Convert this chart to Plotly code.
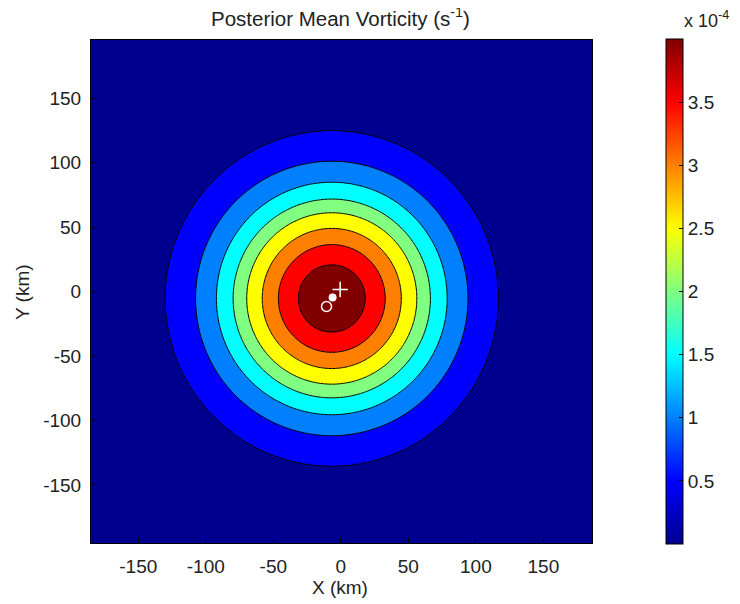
import numpy as np
import plotly.graph_objects as go

# ---- data (vorticity in units of 1e-4 s^-1) ----
contour_levels = [0.44, 0.88, 1.32, 1.76, 2.20, 2.64, 3.08, 3.52]
ring_radius_km = [123.0, 100.8, 85.4, 73.0, 63.0, 51.5, 39.6, 24.8]  # radius (along x) of each level
peak_value = 3.97
outer_value = 0.02
outer_radius_km = 260.0
vortex_center_km = [-6.7, -5.4]
ring_y_stretch = 1.055

colorbar_min = 0.0
colorbar_max = 4.0
colorbar_ticks = [0.5, 1.0, 1.5, 2.0, 2.5, 3.0, 3.5]
colorbar_ticktext = ["0.5", "1", "1.5", "2", "2.5", "3", "3.5"]

x_ticks = [-150, -100, -50, 0, 50, 100, 150]
x_ticktext = ["-150", "-100", "-50", "0", "50", "100", "150"]
y_ticks = [-150, -100, -50, 0, 50, 100, 150]
y_ticktext = ["-150", "-100", "-50", "0", "50", "100", "150"]

plus_marker_km = [-0.5, 1.5]
dot_marker_km = [-6.1, -4.7]
circle_marker_km = [-10.6, -11.6]

# ---- field on a grid built from the radial profile ----
x = np.arange(-186, 187, 1.0)
y = np.arange(-196, 197, 1.0)
X, Y = np.meshgrid(x, y)
rho = np.sqrt((X - vortex_center_km[0]) ** 2 + ((Y - vortex_center_km[1]) / ring_y_stretch) ** 2)
prof_r = [0.0] + ring_radius_km[::-1] + [outer_radius_km]
prof_v = [peak_value] + contour_levels[::-1] + [outer_value]
Z = np.interp(rho, prof_r, prof_v)

jet = [[0.0, "rgb(0,0,143)"], [0.125, "rgb(0,0,255)"], [0.375, "rgb(0,255,255)"],
       [0.625, "rgb(255,255,0)"], [0.875, "rgb(255,0,0)"], [1.0, "rgb(128,0,0)"]]

# layout geometry (pixels); the page adds an 8 px body margin
OFF = 8
W, H = 740, 604
ML, MT = 91 - OFF, 40 - OFF
PW, PH = 501, 503
MR, MB = W - ML - PW, H - MT - PH


def px_x(px):  # reference pixel x -> paper x
    return (px - OFF - ML) / PW


def px_y(py):  # reference pixel y -> paper y
    return (MT + PH - (py - OFF)) / PH


step = contour_levels[1] - contour_levels[0]
fig = go.Figure()
fig.add_trace(go.Contour(
    x=x, y=y, z=Z, colorscale=jet, showscale=False,
    contours=dict(start=contour_levels[0], end=contour_levels[-1], size=step, coloring="fill"),
    line=dict(color="black", width=1), hoverinfo="skip"))

# white markers
fig.add_trace(go.Scatter(x=[plus_marker_km[0]], y=[plus_marker_km[1]], mode="markers",
                         marker=dict(symbol="cross-thin-open", size=11, color="white",
                                     line=dict(color="white", width=1.5)),
                         showlegend=False))
fig.add_trace(go.Scatter(x=[dot_marker_km[0]], y=[dot_marker_km[1]], mode="markers",
                         marker=dict(symbol="circle", size=8, color="white"), showlegend=False))
fig.add_trace(go.Scatter(x=[circle_marker_km[0]], y=[circle_marker_km[1]], mode="markers",
                         marker=dict(symbol="circle-open", size=10, color="white",
                                     line=dict(color="white", width=1.5)),
                         showlegend=False))

# continuous colorbar
fig.add_trace(go.Scatter(
    x=[vortex_center_km[0]], y=[vortex_center_km[1]], mode="markers", showlegend=False,
    hoverinfo="skip",
    marker=dict(size=1, opacity=0, color=[colorbar_min], colorscale=jet,
                cmin=colorbar_min, cmax=colorbar_max, showscale=True,
                colorbar=dict(x=px_x(666), xanchor="left", y=0.5, yanchor="middle",
                              thickness=17, lenmode="pixels", len=PH + 2,
                              outlinewidth=1, outlinecolor="black",
                              tickvals=colorbar_ticks, ticktext=colorbar_ticktext,
                              ticks="inside", ticklen=4, tickcolor="black",
                              tickfont=dict(size=19, color="#222"), xpad=0, ypad=0))))

font = "Liberation Sans, Arial, sans-serif"
axis_common = dict(ticks="inside", ticklen=5, tickcolor="black", showline=True, mirror=True,
                   linecolor="black", linewidth=1, showgrid=False, zeroline=False,
                   automargin=False, tickfont=dict(size=19, color="#222"))
fig.update_layout(
    width=W, height=H,
    margin=dict(l=ML, r=MR, t=MT, b=MB),
    paper_bgcolor="white", plot_bgcolor="white",
    font=dict(family=font, size=19, color="#222"),
    showlegend=False,
    xaxis=dict(range=[-185, 186], tickvals=x_ticks, ticktext=x_ticktext,
               ticklabelstandoff=6, **axis_common),
    yaxis=dict(range=[-195, 195], tickvals=y_ticks, ticktext=y_ticktext,
               ticklabelstandoff=5, **axis_common),
    annotations=[
        dict(text="Posterior Mean Vorticity (s<sup>-1</sup>)", xref="paper", yref="paper",
             x=px_x(340), y=px_y(17), xanchor="center", yanchor="middle",
             showarrow=False, font=dict(size=20.5, color="#222")),
        dict(text="x 10<sup>-4</sup>", xref="paper", yref="paper",
             x=px_x(682), y=px_y(20), xanchor="left", yanchor="middle",
             showarrow=False, font=dict(size=18, color="#222")),
        dict(text="X (km)", xref="paper", yref="paper",
             x=px_x(340), y=px_y(587), xanchor="center", yanchor="middle",
             showarrow=False, font=dict(size=19, color="#222")),
        dict(text="Y (km)", xref="paper", yref="paper", textangle=-90,
             x=px_x(22), y=px_y(292), xanchor="center", yanchor="middle",
             showarrow=False, font=dict(size=19, color="#222")),
    ],
)

fig.write_html("out.html")
